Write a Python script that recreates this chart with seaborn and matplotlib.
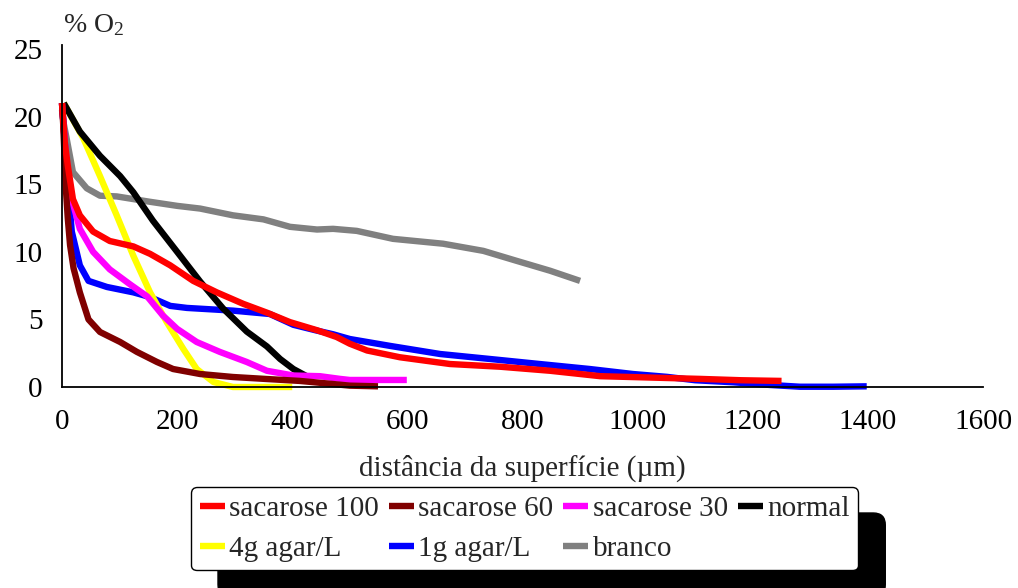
import matplotlib
matplotlib.use("Agg")
import matplotlib.pyplot as plt
import seaborn as sns
from matplotlib.patches import FancyBboxPatch
from matplotlib.transforms import IdentityTransform

# ---- data (distance in µm, % O2) ----
sac100_x = [0, 2, 5, 10, 19, 31, 54, 83, 124, 153, 188, 228, 269, 315, 356, 396, 443, 477, 500, 530, 587, 674, 761, 848, 935, 1021, 1108, 1180, 1250]
sac100_y = [21.0, 19.8, 18.0, 16.4, 13.9, 12.7, 11.5, 10.8, 10.4, 9.85, 9.0, 7.85, 7.0, 6.15, 5.5, 4.8, 4.2, 3.7, 3.2, 2.7, 2.2, 1.7, 1.5, 1.2, 0.8, 0.7, 0.6, 0.5, 0.45]

sac60_x = [0, 2, 4, 7, 10, 14, 20, 31, 46, 66, 101, 130, 165, 193, 240, 297, 356, 413, 471, 500, 549]
sac60_y = [21.0, 19.5, 17.5, 14.5, 12.5, 10.5, 8.8, 7.0, 5.0, 4.07, 3.33, 2.6, 1.85, 1.33, 0.96, 0.74, 0.59, 0.45, 0.22, 0.1, 0.05]

sac30_x = [0, 5, 10, 17, 31, 54, 83, 118, 148, 175, 200, 234, 274, 321, 356, 402, 448, 483, 500, 599]
sac30_y = [21.0, 18.0, 16.0, 13.9, 11.7, 10.0, 8.7, 7.6, 6.7, 5.3, 4.3, 3.33, 2.6, 1.85, 1.2, 0.85, 0.8, 0.6, 0.52, 0.52]

normal_x = [3, 31, 66, 101, 124, 158, 200, 240, 280, 321, 356, 379, 402, 425]
normal_y = [21.0, 18.9, 17.1, 15.6, 14.4, 12.3, 10.0, 7.8, 5.8, 4.1, 3.0, 2.07, 1.33, 0.8]

agar4_x = [3, 37, 66, 95, 124, 153, 182, 211, 234, 263, 297, 356, 400]
agar4_y = [21.0, 18.4, 15.6, 12.7, 9.7, 7.0, 4.8, 2.8, 1.33, 0.37, 0.0, 0.0, 0.0]

agar1_x = [0, 5, 10, 17, 31, 46, 78, 124, 153, 188, 217, 297, 361, 402, 440, 471, 500, 570, 657, 744, 830, 917, 992, 1051, 1100, 1166, 1230, 1282, 1340, 1398]
agar1_y = [21.0, 18.0, 15.0, 11.5, 9.0, 7.85, 7.4, 7.0, 6.65, 6.0, 5.85, 5.65, 5.4, 4.6, 4.2, 3.9, 3.55, 3.04, 2.44, 2.07, 1.7, 1.33, 0.96, 0.75, 0.5, 0.35, 0.15, 0.02, 0.02, 0.05]

branco_x = [0, 3, 8, 19, 43, 66, 95, 153, 200, 240, 297, 350, 396, 443, 471, 512, 575, 662, 732, 790, 848, 900]
branco_y = [20.5, 19.5, 18.4, 15.9, 14.7, 14.15, 14.1, 13.7, 13.4, 13.2, 12.7, 12.4, 11.85, 11.65, 11.7, 11.55, 10.96, 10.6, 10.07, 9.33, 8.6, 7.85]

x_ticks = [0, 200, 400, 600, 800, 1000, 1200, 1400, 1600]
y_ticks = [0, 5, 10, 15, 20, 25]

series = [
    ("branco", branco_x, branco_y, "#808080"),
    ("1g agar/L", agar1_x, agar1_y, "#0000FF"),
    ("4g agar/L", agar4_x, agar4_y, "#FFFF00"),
    ("normal", normal_x, normal_y, "#000000"),
    ("sacarose 30", sac30_x, sac30_y, "#FF00FF"),
    ("sacarose 60", sac60_x, sac60_y, "#800000"),
    ("sacarose 100", sac100_x, sac100_y, "#FF0000"),
]
legend_order = ["sacarose 100", "4g agar/L", "sacarose 60", "1g agar/L",
                "sacarose 30", "branco", "normal"]

sns.set_style("white")
plt.rcParams["font.family"] = ["Liberation Serif", "DejaVu Serif"]
plt.rcParams["mathtext.fontset"] = "custom"
plt.rcParams["mathtext.rm"] = "Liberation Serif"
plt.rcParams["mathtext.it"] = "Liberation Serif:italic"
plt.rcParams["mathtext.bf"] = "Liberation Serif:bold"
plt.rcParams["lines.solid_capstyle"] = "butt"
plt.rcParams["lines.solid_joinstyle"] = "round"

fig = plt.figure(figsize=(10.18, 5.88), dpi=100)
ax = fig.add_axes([62 / 1018, 1 - 387 / 588, (983 - 62) / 1018, (387 - 45) / 588])

for name, xs, ys, col in series:
    sns.lineplot(x=xs, y=ys, ax=ax, color=col, linewidth=4.6, label=name,
                 legend=False, sort=False, estimator=None, clip_on=False,
                 solid_capstyle="butt", solid_joinstyle="round")

ax.set_xlim(0, 1600)
ax.set_ylim(0, 25.3)
ax.set_xticks(x_ticks)
ax.set_yticks(y_ticks)
ax.tick_params(axis="both", length=0, labelsize=21, colors="black")
ax.tick_params(axis="x", pad=16)
ax.tick_params(axis="y", pad=14)
for s in ["top", "right"]:
    ax.spines[s].set_visible(False)
for s in ["left", "bottom"]:
    ax.spines[s].set_color("black")
    ax.spines[s].set_linewidth(1.3)
ax.set_xlabel("distância da superfície (µm)", fontsize=21, labelpad=14)
ax.set_ylabel("")
fig.text(63 / 1018, 1 - 32 / 588, r"% O$_\mathrm{2}$", fontsize=20,
         ha="left", va="baseline")

h, l = ax.get_legend_handles_labels()
hmap = dict(zip(l, h))
leg = fig.legend([hmap[k] for k in legend_order], legend_order,
                 ncol=4, loc="upper left",
                 bbox_to_anchor=(191 / 1018, 1 - 487 / 588),
                 fontsize=21, frameon=True, fancybox=True, framealpha=1,
                 edgecolor="black", handlelength=0.85, handletextpad=0.15,
                 columnspacing=0.35, labelspacing=0.45, borderpad=0.3,
                 borderaxespad=0)
leg.get_frame().set_linewidth(1.0)

fig.canvas.draw()
bb = leg.get_window_extent()
shadow = FancyBboxPatch((bb.x0 + 27, bb.y0 - 26), bb.width, bb.height,
                        boxstyle="round,pad=0,rounding_size=12",
                        transform=IdentityTransform(), facecolor="black",
                        edgecolor="black", zorder=-1)
fig.add_artist(shadow)

fig.savefig("out.png", dpi=100)
